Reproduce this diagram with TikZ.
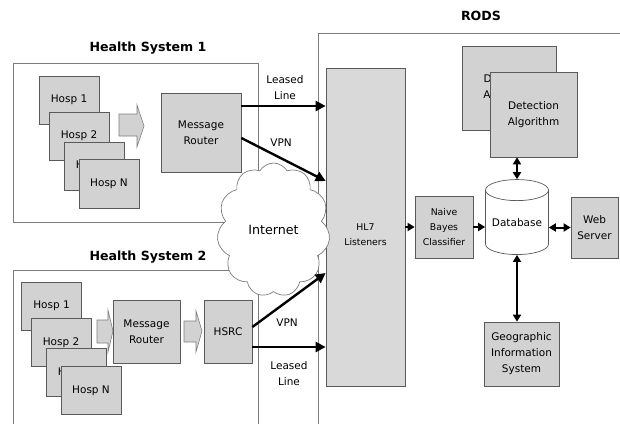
\documentclass[tikz,border=0pt]{standalone}
\usepackage{fontspec}
\setmainfont{DejaVu Sans}
\usetikzlibrary{arrows.meta, shapes.geometric, shapes.symbols}

\definecolor{boxgray}{RGB}{210,210,210}
\definecolor{hlgray}{RGB}{217,217,217}
\definecolor{edgegray}{RGB}{90,90,90}
\definecolor{framegray}{RGB}{125,125,125}

\newcommand{\txt}{\fontsize{10.5}{16}\selectfont}
\newcommand{\smtxt}{\fontsize{9.3}{15}\selectfont}
\newcommand{\ttl}{\fontsize{12.6}{15}\selectfont\bfseries}

\tikzset{
	box/.style={draw=edgegray, fill=boxgray, line width=0.7pt, inner sep=0pt, align=center, font=\txt},
	frame/.style={draw=framegray, line width=0.7pt},
	fatarrow/.style={draw=framegray, fill=boxgray, line width=0.6pt},
	link/.style={line width=2.4pt, -{Triangle[length=10pt,width=10pt]}},
	slink/.style={line width=2pt, -{Triangle[length=7pt,width=8pt]}},
	dlink/.style={line width=2pt, {Triangle[length=7pt,width=8pt]}-{Triangle[length=7pt,width=8pt]}},
	lbl/.style={font=\txt, align=center, inner sep=0pt},
}

\begin{document}
\begin{tikzpicture}[x=1pt, y=-1pt]
	\useasboundingbox (0,0) rectangle (620,423);
	\clip (0,0) rectangle (620,423);

	%frames
	\draw[frame] (13,63) rectangle (258,222);	%health system 1
	\draw[frame] (13,270) rectangle (258,440);	%health system 2
	\draw[frame] (318,33) rectangle (640,440);	%RODS
	\node[font=\ttl] (T1) at (148,48) {Health System 1};
	\node[font=\ttl] (T2) at (148,257) {Health System 2};
	\node[font=\ttl] (TR) at (481,16) {RODS};

	%health system 1
	\node[box, minimum width=60pt, minimum height=48pt] (Aa) at (69,100) {Hosp 1};
	\node[box, minimum width=60pt, minimum height=48pt] (Ab) at (79,136) {Hosp 2};
	\node[box, minimum width=60pt, minimum height=48pt] (Ac) at (94,166) {Hosp 3};
	\node[box, minimum width=60pt, minimum height=49pt] (An) at (109,183.5) {Hosp N};
	\draw[fatarrow] (119,114) -- (137,114) -- (137,105) -- (144,126) -- (137,147) -- (137,136) -- (119,136) -- cycle;
	\node[box, minimum width=80pt, minimum height=79pt] (MRa) at (201,132.5) {Message\\Router};

	%health system 2
	\node[box, minimum width=60pt, minimum height=48pt] (Ba) at (51.5,306) {Hosp 1};
	\node[box, minimum width=60pt, minimum height=48pt] (Bb) at (61,342.5) {Hosp 2};
	\node[box, minimum width=60pt, minimum height=48pt] (Bc) at (76,372.5) {Hosp 3};
	\node[box, minimum width=60pt, minimum height=48pt] (Bn) at (91,390.5) {Hosp N};
	\draw[fatarrow] (97,320) -- (108,320) -- (108,310) -- (113,331) -- (108,352) -- (108,343) -- (97,343) -- cycle;
	\node[box, minimum width=67pt, minimum height=63pt] (MRb) at (146.5,331.5) {Message\\Router};
	\draw[fatarrow] (184,321) -- (196,321) -- (196,311) -- (202,331) -- (196,352) -- (196,342) -- (184,342) -- cycle;
	\node[box, minimum width=48pt, minimum height=63pt] (HS) at (228,331.5) {HSRC};

	%RODS
	\node[box, fill=hlgray, minimum width=79pt, minimum height=318pt] (HL) at (365.5,227) {};
	\node[lbl, font=\smtxt] (HLt) at (365.5,235) {HL7\\Listeners};
	\node[box, font=\smtxt, minimum width=58pt, minimum height=62pt] (NB) at (444,227) {Naive\\Bayes\\Classifier};
	\node[cylinder, shape border rotate=90, shape aspect=0.42, draw=edgegray, fill=white, line width=0.7pt,
		inner sep=0pt, font=\txt, minimum width=63pt, minimum height=75pt] (DB) at (517,222.5) {Database};
	\node[box, minimum width=47pt, minimum height=61pt] (WS) at (594.5,227.5) {Web\\Server};
	\node[box, minimum width=94pt, minimum height=84pt] (DTb) at (509,88) {Detection\\Algorithm};
	\node[box, minimum width=87pt, minimum height=85pt] (DTa) at (533.5,114.5) {Detection\\Algorithm};
	\node[box, minimum width=75pt, minimum height=64pt] (GIS) at (521.5,354) {Geographic\\Information\\System};

	\node[cloud, draw=framegray, fill=white, line width=0.7pt, cloud puffs=11, cloud puff arc=120, aspect=0.85,
		minimum width=113pt, minimum height=134pt, font=\fontsize{12.7}{15}\selectfont] (NET) at (273.5,230) {Internet};

	%links into RODS
	\draw[link] ([yshift=26.5pt]MRa.east) -- ([yshift=26.5pt]MRa.east -| HL.west);
	\draw[link] ([yshift=-5.5pt]MRa.east) -- ([yshift=46pt]HL.west);
	\draw[link] ([yshift=4.5pt]HS.east) -- ([yshift=-46pt]HL.west);
	\draw[link] ([yshift=-15.5pt]HS.east) -- ([yshift=-15.5pt]HS.east -| HL.west);
	\node[lbl] (LLa) at (285,87.5) {Leased\\Line};
	\node[lbl] (VPa) at (281,143) {VPN};
	\node[lbl] (VPb) at (287,323) {VPN};
	\node[lbl] (LLb) at (289,374) {Leased\\Line};

	%inside RODS
	\draw[slink] (HL.east |- NB.west) -- (NB.west);
	\draw[slink] (NB.east) -- (NB.east -| DB.west);
	\draw[dlink] (WS.west -| DB.east) -- (WS.west);
	\draw[dlink] (DB.north |- DTa.south) -- (DB.north);
	\draw[dlink] (DB.south) -- (DB.south |- GIS.north);
\end{tikzpicture}
\end{document}
